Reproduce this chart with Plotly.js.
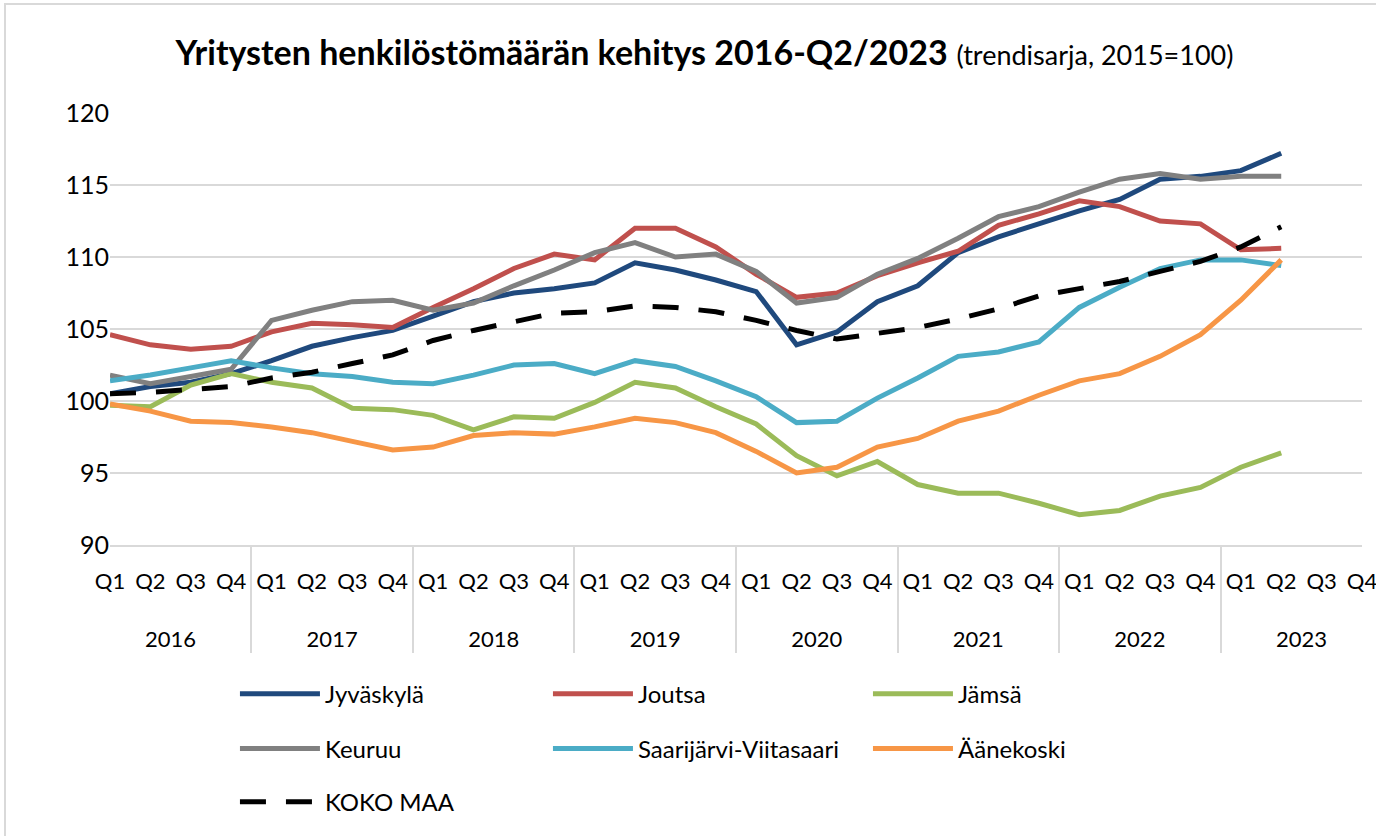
<!DOCTYPE html>
<html>
<head>
<meta charset="utf-8">
<script src="https://cdn.plot.ly/plotly-3.0.1.min.js"></script>
<style>
html,body{margin:0;padding:0;background:#fff;}
#chart{width:1376px;height:836px;}
#frame{position:absolute;left:4px;top:3px;width:1400px;height:900px;border:2px solid #D9D9D9;pointer-events:none;box-sizing:border-box;}
</style>
</head>
<body>
<div id="chart"></div>
<div id="frame"></div>
<script>
const years = ["2016","2017","2018","2019","2020","2021","2022","2023"];
const quarters = ["Q1","Q2","Q3","Q4"];

const jyvaskyla = [100.5,101.0,101.3,101.9,102.8,103.8,104.4,104.9,105.9,106.9,107.5,107.8,108.2,109.6,109.1,108.4,107.6,103.9,104.8,106.9,108.0,110.3,111.4,112.3,113.2,114.0,115.4,115.6,116.0,117.2];
const joutsa    = [104.6,103.9,103.6,103.8,104.8,105.4,105.3,105.1,106.5,107.8,109.2,110.2,109.8,112.0,112.0,110.7,108.8,107.2,107.5,108.7,109.6,110.4,112.2,113.0,113.9,113.5,112.5,112.3,110.5,110.6];
const jamsa     = [99.7,99.6,101.1,101.9,101.3,100.9,99.5,99.4,99.0,98.0,98.9,98.8,99.9,101.3,100.9,99.6,98.4,96.2,94.8,95.8,94.2,93.6,93.6,92.9,92.1,92.4,93.4,94.0,95.4,96.4];
const keuruu    = [101.8,101.2,101.7,102.2,105.6,106.3,106.9,107.0,106.3,106.8,108.0,109.1,110.3,111.0,110.0,110.2,109.0,106.8,107.2,108.8,109.9,111.3,112.8,113.5,114.5,115.4,115.8,115.4,115.6,115.6];
const saarijarvi= [101.4,101.8,102.3,102.8,102.3,101.9,101.7,101.3,101.2,101.8,102.5,102.6,101.9,102.8,102.4,101.4,100.3,98.5,98.6,100.2,101.6,103.1,103.4,104.1,106.5,107.9,109.2,109.8,109.8,109.4];
const aanekoski = [99.8,99.3,98.6,98.5,98.2,97.8,97.2,96.6,96.8,97.6,97.8,97.7,98.2,98.8,98.5,97.8,96.5,95.0,95.4,96.8,97.4,98.6,99.3,100.4,101.4,101.9,103.1,104.6,107.0,109.8];
const kokoMaa   = [100.5,100.6,100.8,101.0,101.6,102.0,102.6,103.2,104.2,104.9,105.5,106.1,106.2,106.6,106.5,106.2,105.6,104.9,104.3,104.7,105.1,105.7,106.4,107.3,107.8,108.3,109.0,109.7,110.7,112.1];

const seriesNames = ["Jyväskylä","Joutsa","Jämsä","Keuruu","Saarijärvi-Viitasaari","Äänekoski","KOKO MAA"];
const seriesData = [jyvaskyla,joutsa,jamsa,keuruu,saarijarvi,aanekoski,kokoMaa];
const colors = ["#1F497D","#C0504D","#9BBB59","#808080","#4BACC6","#F79646","#000000"];

// two-level category axis; the blank second line gives the quarter row its height
const xYears = [], xQuarters = [];
years.forEach(y => quarters.forEach(q => {
  xYears.push(y);
  xQuarters.push(q + "<br><span style='font-size:60px'> </span>");
}));

const FONT = "Lato, 'Open Sans', sans-serif";

const legendCols = [0.0998, 0.3498, 0.6054];
const legendRows = [-0.293, -0.420, -0.543];

const traces = seriesNames.map((name, i) => {
  const vals = seriesData[i].slice();
  while (vals.length < xYears.length) vals.push(null);
  return {
    type: "scatter", mode: "lines", name: name,
    x: [xYears, xQuarters], y: vals,
    line: {color: colors[i], width: 5, dash: i === 6 ? "26px,20px" : "solid"},
    legend: i === 0 ? "legend" : "legend" + (i + 1), connectgaps: false
  };
});

const layout = {
  width: 1376, height: 836,
  margin: {l: 110, r: 14, t: 113, b: 291},
  paper_bgcolor: "#fff", plot_bgcolor: "#fff",
  font: {family: FONT, color: "#000"},
  showlegend: true,
  title: {
    text: "<b>Yritysten henkilöstömäärän kehitys 2016-Q2/2023</b> <span style='font-size:27px'>(trendisarja, 2015=100)</span>",
    font: {family: FONT, size: 34, color: "#000"},
    xref: "container", x: 0.512, xanchor: "center",
    yref: "container", y: 0.937, yanchor: "middle"
  },
  xaxis: {
    type: "multicategory", showgrid: false, zeroline: false,
    showline: true, linecolor: "#D9D9D9", linewidth: 2,
    showdividers: true, dividercolor: "#D9D9D9", dividerwidth: 2,
    ticks: "", ticklabelstandoff: 16,
    tickfont: {family: FONT, size: 22, color: "#000"}
  },
  yaxis: {
    range: [90, 120], dtick: 5, tick0: 90,
    showgrid: true, gridcolor: "#D9D9D9", gridwidth: 2,
    zeroline: false, showline: false, ticks: "",
    tickfont: {family: FONT, size: 25, color: "#000"}
  }
};

seriesNames.forEach((n, i) => {
  const key = i === 0 ? "legend" : "legend" + (i + 1);
  layout[key] = {
    orientation: "h", xanchor: "left", yanchor: "top",
    x: legendCols[i % 3], y: legendRows[Math.floor(i / 3)],
    font: {family: FONT, size: 24, color: "#000"},
    itemwidth: 80, bgcolor: "rgba(0,0,0,0)"
  };
});

Plotly.newPlot("chart", traces, layout, {displayModeBar: false, staticPlot: true});
</script>
</body>
</html>
